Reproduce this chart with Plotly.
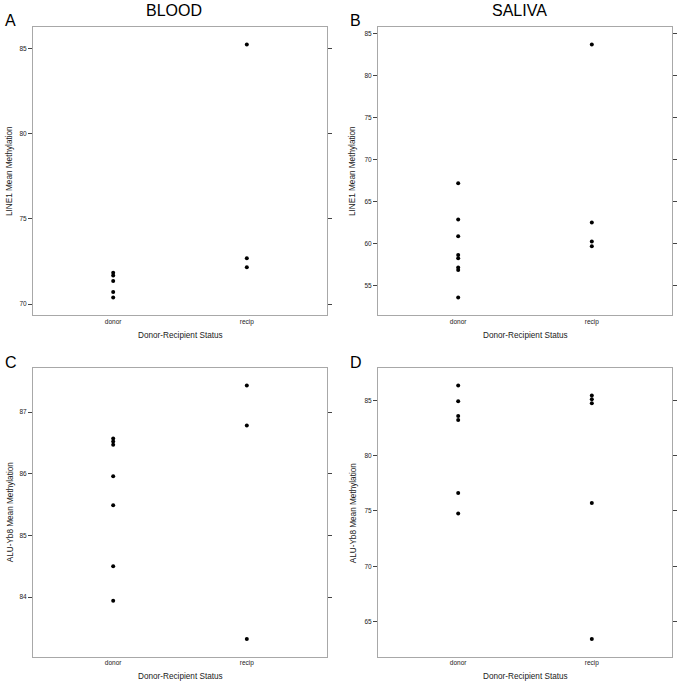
import plotly.graph_objects as go

W, H = 685, 693

categories = ["donor", "recip"]

# Panel A: BLOOD, LINE1
blood_line1_donor = [71.85, 71.68, 71.36, 70.71, 70.39]
blood_line1_recip = [85.23, 72.69, 72.17]
# Panel B: SALIVA, LINE1
saliva_line1_donor = [67.19, 62.86, 60.87, 58.64, 58.25, 57.14, 56.85, 53.56]
saliva_line1_recip = [83.72, 62.50, 60.24, 59.68]
# Panel C: BLOOD, ALU-Yb8
blood_alu_donor = [86.57, 86.52, 86.47, 85.96, 85.49, 84.50, 83.94]
blood_alu_recip = [87.43, 86.78, 83.32]
# Panel D: SALIVA, ALU-Yb8
saliva_alu_donor = [86.33, 84.91, 83.58, 83.22, 76.63, 74.76]
saliva_alu_recip = [85.42, 85.09, 84.73, 75.72, 63.43]

tick_A = [70, 75, 80, 85]
tick_B = [55, 60, 65, 70, 75, 80, 85]
tick_C = [84, 85, 86, 87]
tick_D = [65, 70, 75, 80, 85]

panel_letters = ["A", "B", "C", "D"]
column_titles = ["BLOOD", "SALIVA"]
y_titles = ["LINE1 Mean Methylation", "LINE1 Mean Methylation",
            "ALU-Yb8 Mean Methylation", "ALU-Yb8 Mean Methylation"]
x_title = "Donor-Recipient Status"

panels = [
    (blood_line1_donor, blood_line1_recip, tick_A),
    (saliva_line1_donor, saliva_line1_recip, tick_B),
    (blood_alu_donor, blood_alu_recip, tick_C),
    (saliva_alu_donor, saliva_alu_recip, tick_D),
]

# box pixel positions (left, right, top, bottom)
boxes = [(33, 327, 27, 315), (378, 672, 27, 315),
         (33, 327, 368, 656.5), (378, 672, 368, 656.5)]

def px(x):
    return x / W

def py(y):
    return 1 - y / H

FONT = "Liberation Sans, Arial, sans-serif"
TXT = "#222222"

fig = go.Figure()
layout = dict(
    width=W, height=H, margin=dict(l=0, r=0, t=0, b=0),
    paper_bgcolor="white", plot_bgcolor="white", showlegend=False,
    font=dict(family=FONT, color=TXT),
)

annotations = []
for i, ((d, r, ticks), (l, rt, t, b)) in enumerate(zip(panels, boxes)):
    n = "" if i == 0 else str(i + 1)
    xs = [1] * len(d) + [2] * len(r)
    ys = d + r
    fig.add_trace(go.Scatter(
        x=xs, y=ys, mode="markers",
        marker=dict(color="black", size=4, line=dict(width=0)),
        xaxis="x" + n, yaxis="y" + n,
    ))
    lo, hi = min(ys), max(ys)
    pad = 0.069 * (hi - lo)
    layout["xaxis" + n] = dict(
        domain=[px(l), px(rt)], anchor="y" + n, range=[0.4, 2.6],
        tickmode="array", tickvals=[1, 2], ticktext=categories,
        ticks="outside", ticklen=0, showgrid=False, zeroline=False,
        showline=True, linecolor="#a8a8a8", linewidth=1, mirror=True,
        tickfont=dict(size=6.5, color=TXT, family=FONT),
        fixedrange=True,
    )
    layout["yaxis" + n] = dict(
        domain=[py(b), py(t)], anchor="x" + n, range=[lo - pad, hi + pad],
        tickmode="array", tickvals=ticks, ticktext=[str(v) for v in ticks],
        ticks="outside", ticklen=4, tickcolor="#444444", tickwidth=1,
        showgrid=False, zeroline=False,
        showline=True, linecolor="#a8a8a8", linewidth=1, mirror="ticks",
        tickfont=dict(size=6.5, color=TXT, family=FONT),
        fixedrange=True,
    )
    # y title
    ytx = 10 if l < 100 else 353
    annotations.append(dict(
        text=y_titles[i], x=px(ytx), y=py((t + b) / 2), xref="paper", yref="paper",
        showarrow=False, textangle=-90, font=dict(size=8.2, color=TXT, family=FONT),
        xanchor="center", yanchor="middle",
    ))
    # x title
    annotations.append(dict(
        text=x_title, x=px((l + rt) / 2), y=py(b + 20), xref="paper", yref="paper",
        showarrow=False, font=dict(size=8.2, color=TXT, family=FONT),
        xanchor="center", yanchor="middle",
    ))
    # panel letter
    annotations.append(dict(
        text=panel_letters[i], x=px(l - 30), y=py(t - 6), xref="paper", yref="paper",
        showarrow=False, font=dict(size=16, color="black", family=FONT),
        xanchor="left", yanchor="middle",
    ))

for j, title in enumerate(column_titles):
    l, rt, t, b = boxes[j]
    annotations.append(dict(
        text=title, x=px((l + rt) / 2 - 6), y=py(10), xref="paper", yref="paper",
        showarrow=False, font=dict(size=16, color="black", family=FONT),
        xanchor="center", yanchor="middle",
    ))

layout["annotations"] = annotations
fig.update_layout(**layout)
fig.write_html("out.html",
               config={"displayModeBar": False, "staticPlot": True},
               post_script="document.body.style.margin='0';document.body.style.padding='0';")
